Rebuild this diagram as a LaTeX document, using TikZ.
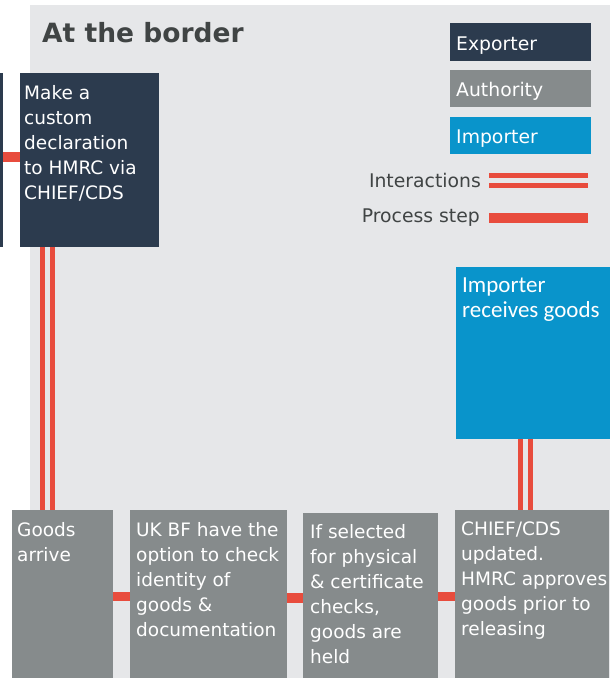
\documentclass[tikz,border=0pt]{standalone}
\usepackage{fontspec}
\setmainfont{DejaVu Sans}
\newfontfamily\calfont{Carlito}
\usetikzlibrary{positioning}
\definecolor{PanelGray}{RGB}{230,231,233}
\definecolor{ExpNavy}{RGB}{44,59,78}
\definecolor{AuthGray}{RGB}{134,139,140}
\definecolor{ImpBlue}{RGB}{9,148,203}
\definecolor{LinkRed}{RGB}{232,76,61}
\definecolor{InkGray}{RGB}{64,68,68}

\tikzset{
  stepbox/.style={anchor=north west, inner sep=0pt, outer sep=0pt},
  steptext/.style={anchor=north west, align=left, text=white,
                   inner xsep=6pt, inner ysep=12pt,
                   font=\fontsize{18.5}{25}\selectfont},
  keybox/.style={anchor=north west, text width=129pt, inner xsep=6pt,
                 inner ysep=0pt, minimum height=37pt, align=left,
                 text height=16pt, text depth=0pt,
                 text=white, font=\fontsize{18.8}{22}\selectfont},
  keytext/.style={anchor=east, inner sep=0pt, text=InkGray,
                  font=\fontsize{18.8}{22}\selectfont},
  interact/.style={draw=LinkRed, line width=4.75pt, double=PanelGray,
                   double distance=5.25pt},
  procstep/.style={draw=LinkRed, line width=9.5pt}
}

\begin{document}
\begin{tikzpicture}[x=1pt, y=-1pt]
  \useasboundingbox (0,0) rectangle (614,678);
  \fill[PanelGray] (30,5) rectangle (610,678);

  \node[anchor=base west, inner sep=0pt, text=InkGray,
        font=\bfseries\fontsize{26.5}{30}\selectfont] (title) at (42,42)
        {At the border};

  % key
  \node[keybox, fill=ExpNavy, minimum height=38pt] (keyexp) at (450,23) {Exporter};
  \node[keybox, fill=AuthGray] (keyauth) at (450,70) {Authority};
  \node[keybox, fill=ImpBlue] (keyimp) at (450,117) {Importer};
  \node[keytext] (keyint) at (481,180.5) {Interactions};
  \node[keytext] (keyproc) at (480,217.5) {Process step};
  \coordinate (keyintend) at (588,180.5);
  \coordinate (keyprocend) at (588,217.5);
  \draw[interact, line width=5pt, double distance=5pt]
        ([xshift=8pt]keyint.east) -- (keyintend);
  \draw[procstep, line width=10pt] ([xshift=9pt]keyproc.east) -- (keyprocend);

  % exporter side
  \node[stepbox, fill=ExpNavy, minimum width=3pt, minimum height=174pt] (prev) at (0,73) {};
  \node[stepbox, fill=ExpNavy, minimum width=139pt, minimum height=174pt] (decl) at (20,73) {};
  \node[steptext, inner xsep=4pt] (decl-txt) at (decl.north west)
        {Make a\\custom\\declaration\\to HMRC via\\CHIEF/CDS};
  \draw[procstep] ([yshift=3pt]prev.east) -- ([yshift=3pt]decl.west);

  % importer side
  \node[stepbox, fill=ImpBlue, minimum width=154pt, minimum height=172pt] (recv) at (456,267) {};
  \node[steptext, inner ysep=11pt, font=\calfont\fontsize{23}{25}\selectfont]
        (recv-txt) at (recv.north west) {Importer\\receives goods};

  % checks at the border
  \node[stepbox, fill=AuthGray, minimum width=101pt, minimum height=168pt] (goods) at (12,510) {};
  \node[steptext, inner xsep=5pt] (goods-txt) at (goods.north west) {Goods\\arrive};
  \node[stepbox, fill=AuthGray, minimum width=157pt, minimum height=168pt] (check) at (130,510) {};
  \node[steptext] (check-txt) at (check.north west)
        {UK BF have the\\option to check\\identity of\\goods \&\\documentation};
  \node[stepbox, fill=AuthGray, minimum width=135pt, minimum height=165pt] (held) at (303,513) {};
  \node[steptext, inner xsep=7pt, inner ysep=11pt] (held-txt) at (held.north west)
        {If selected\\for physical\\\& certificate\\checks,\\goods are\\held};
  \node[stepbox, fill=AuthGray, minimum width=154pt, minimum height=168pt] (chief) at (455,510) {};
  \node[steptext] (chief-txt) at (chief.north west)
        {CHIEF/CDS\\updated.\\HMRC approves\\goods prior to\\releasing};

  % interactions
  \path ([xshift=27.5pt]decl.south west) coordinate (decl-out);
  \draw[interact] (decl-out) -- (decl-out |- goods.north);
  \path ([xshift=69.5pt]recv.south west) coordinate (recv-out);
  \draw[interact] (recv-out) -- (recv-out |- chief.north);

  % process steps
  \foreach \src/\dst in {goods/check, check/held, held/chief} {
    \path ([yshift=-2.5pt]\dst.west) coordinate (\dst-in);
    \draw[procstep] (\dst-in -| \src.east) -- (\dst-in);
  }
\end{tikzpicture}
\end{document}
